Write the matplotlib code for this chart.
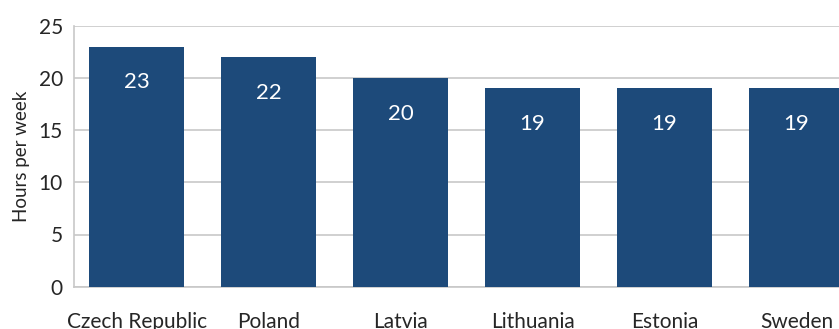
import matplotlib.pyplot as plt

plt.rcParams['font.family'] = ['Lato', 'DejaVu Sans']

countries = ['Czech Republic', 'Poland', 'Latvia', 'Lithuania', 'Estonia', 'Sweden']
hours = [23, 22, 20, 19, 19, 19]

bar_color = '#1d4a7a'
grid_color = '#c8c8c8'
text_color = '#262626'

fig = plt.figure(figsize=(8.39, 3.29), dpi=100)
# axes run past the right edge, so the last bar is cut off
ax = fig.add_axes([74 / 839, 1 - 286.7 / 329, (866 - 74) / 839, 261 / 329])

x = range(len(countries))
bars = ax.bar(x, hours, width=0.72, color=bar_color, zorder=3)

for b, v in zip(bars, hours):
    ax.text(b.get_x() + b.get_width() / 2, v - 4.0, str(v), ha='center', va='baseline',
            color='white', fontsize=16, zorder=4)

ax.set_xlim(-0.474, -0.474 + (866 - 74) / 132)
ax.set_ylim(0, 25)
ax.set_yticks(range(0, 26, 5))
ax.set_xticks(list(x))
ax.set_xticklabels(countries)
ax.tick_params(axis='both', length=0, colors=text_color)
ax.tick_params(axis='y', labelsize=15, pad=8)
ax.tick_params(axis='x', labelsize=15, pad=18)
ax.set_ylabel('Hours per week', fontsize=13.5, color=text_color, labelpad=6)

ax.grid(axis='y', color=grid_color, linewidth=1.2, zorder=0)
for side in ['top', 'right']:
    ax.spines[side].set_visible(False)
for side in ['left', 'bottom']:
    ax.spines[side].set_color(grid_color)
    ax.spines[side].set_linewidth(1.2)

fig.savefig('out.png', dpi=100)
